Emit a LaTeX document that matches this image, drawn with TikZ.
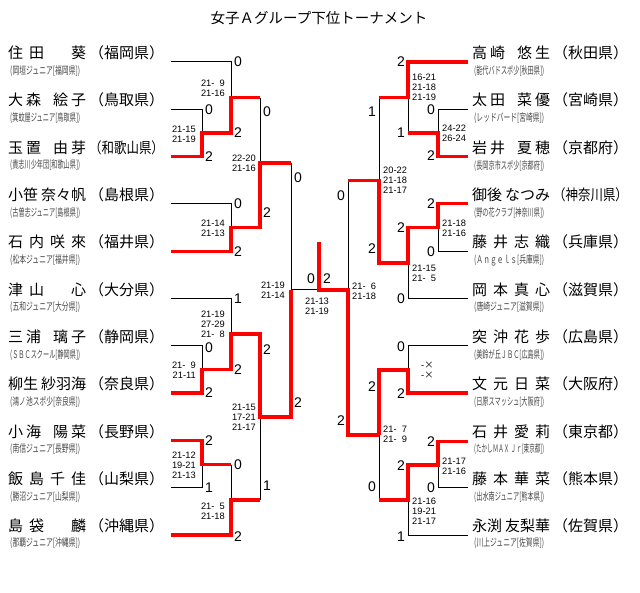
\documentclass[tikz,border=0pt]{standalone}
\usepackage{fontspec}
\usepackage{graphicx}
\setmainfont{Liberation Sans}
\newfontfamily\jp{Noto Sans CJK JP}
\definecolor{tred}{RGB}{255,0,0}
\definecolor{clubgray}{RGB}{70,70,70}
\newcommand\nmT[3]{#1\hspace{6pt}#2\hspace{27pt}#3}
\newcommand\nmP[4]{#1\hspace{3pt}#2\hspace{12pt}#3\hspace{3pt}#4}
\newcommand\nmE[4]{#1\hspace{6pt}#2\hspace{6pt}#3\hspace{6pt}#4}
\newcommand\nmF[5]{#1#2\hspace{3pt}#3#4#5}
\newcommand\prefA[1]{（#1）}
\newcommand\prefB[1]{\scalebox{0.83}[1]{（#1）}}
\newcommand\clubbox[1]{\resizebox{70pt}{\height}{#1}}
\newcommand\dgsp{\phantom{0}}
\newcommand\crs{{\jp ×}}
\begin{document}
\begin{tikzpicture}[x=1pt,y=-1pt,
  ttl/.style={inner sep=0pt, font=\jp\fontsize{14.5}{15}\selectfont},
  nm/.style={anchor=west, inner sep=0pt, font=\jp\fontsize{15}{15}\selectfont},
  cb/.style={anchor=west, inner sep=0pt, font=\jp\fontsize{10.5}{10.5}\selectfont, text=clubgray},
  scL/.style={anchor=west, inner sep=0pt, font=\fontsize{14}{14}\selectfont},
  scR/.style={anchor=east, inner sep=0pt, font=\fontsize{14}{14}\selectfont},
  gsL/.style={anchor=east, inner sep=0pt, align=right, font=\fontsize{9.3}{10}\selectfont},
  gsR/.style={anchor=west, inner sep=0pt, align=left, font=\fontsize{9.3}{10}\selectfont},
  gsC/.style={inner sep=0pt, align=center, font=\fontsize{9.3}{10}\selectfont},
  bl/.style={draw=black, line width=1pt},
  rd/.style={draw=tred, line width=3.2pt},
]
\fill[white] (0,0) rectangle (640,593);
\useasboundingbox (0,0) rectangle (640,593);

\node[ttl] (title) at (319,18) {女子Ａグループ下位トーナメント};

% ---------- left players ----------
\node[nm] (ln0) at (8,53) {\nmT{住}{田}{葵}};
\node[nm] (lp0) at (89,53) {\prefA{福岡県}};
\node[cb] (lc0) at (10,71) {\clubbox{(岡垣ジュニア[福岡県])}};
\node[nm] (ln1) at (8,100.3) {\nmP{大}{森}{絵}{子}};
\node[nm] (lp1) at (89,100.3) {\prefA{鳥取県}};
\node[cb] (lc1) at (10,118.3) {\clubbox{(箕蚊屋ジュニア[鳥取県])}};
\node[nm] (ln2) at (8,147.6) {\nmP{玉}{置}{由}{芽}};
\node[nm] (lp2) at (89,147.6) {\prefB{和歌山県}};
\node[cb] (lc2) at (10,165.6) {\clubbox{(貴志川少年団[和歌山県])}};
\node[nm] (ln3) at (8,194.9) {\nmF{小}{笹}{奈}{々}{帆}};
\node[nm] (lp3) at (89,194.9) {\prefA{島根県}};
\node[cb] (lc3) at (10,212.9) {\clubbox{(古曽志ジュニア[島根県])}};
\node[nm] (ln4) at (8,242.2) {\nmE{石}{内}{咲}{來}};
\node[nm] (lp4) at (89,242.2) {\prefA{福井県}};
\node[cb] (lc4) at (10,260.2) {\clubbox{(松本ジュニア[福井県])}};
\node[nm] (ln5) at (8,289.5) {\nmT{津}{山}{心}};
\node[nm] (lp5) at (89,289.5) {\prefA{大分県}};
\node[cb] (lc5) at (10,307.5) {\clubbox{(五和ジュニア[大分県])}};
\node[nm] (ln6) at (8,336.8) {\nmP{三}{浦}{璃}{子}};
\node[nm] (lp6) at (89,336.8) {\prefA{静岡県}};
\node[cb] (lc6) at (10,354.8) {\clubbox{(ＳＢＣスクール[静岡県])}};
\node[nm] (ln7) at (8,384.1) {\nmF{柳}{生}{紗}{羽}{海}};
\node[nm] (lp7) at (89,384.1) {\prefA{奈良県}};
\node[cb] (lc7) at (10,402.1) {\clubbox{(鴻ノ池スポ少[奈良県])}};
\node[nm] (ln8) at (8,431.4) {\nmP{小}{海}{陽}{菜}};
\node[nm] (lp8) at (89,431.4) {\prefA{長野県}};
\node[cb] (lc8) at (10,449.4) {\clubbox{(南信ジュニア[長野県])}};
\node[nm] (ln9) at (8,478.7) {\nmE{飯}{島}{千}{佳}};
\node[nm] (lp9) at (89,478.7) {\prefA{山梨県}};
\node[cb] (lc9) at (10,496.7) {\clubbox{(勝沼ジュニア[山梨県])}};
\node[nm] (ln10) at (8,526) {\nmT{島}{袋}{麟}};
\node[nm] (lp10) at (89,526) {\prefA{沖縄県}};
\node[cb] (lc10) at (10,543) {\clubbox{(那覇ジュニア[沖縄県])}};

% ---------- right players ----------
\node[nm] (rn0) at (472,53) {\nmP{高}{崎}{悠}{生}};
\node[nm] (rp0) at (553,53) {\prefA{秋田県}};
\node[cb] (rc0) at (474,71) {\clubbox{(能代バドスポ少[秋田県])}};
\node[nm] (rn1) at (472,100.3) {\nmP{太}{田}{菜}{優}};
\node[nm] (rp1) at (553,100.3) {\prefA{宮崎県}};
\node[cb] (rc1) at (474,118.3) {\clubbox{(レッドバード[宮崎県])}};
\node[nm] (rn2) at (472,147.6) {\nmP{岩}{井}{夏}{穂}};
\node[nm] (rp2) at (553,147.6) {\prefA{京都府}};
\node[cb] (rc2) at (474,165.6) {\clubbox{(長岡京市スポ少[京都府])}};
\node[nm] (rn3) at (472,194.9) {\nmF{御}{後}{な}{つ}{み}};
\node[nm] (rp3) at (553,194.9) {\prefB{神奈川県}};
\node[cb] (rc3) at (474,212.9) {\clubbox{(野の花クラブ[神奈川県])}};
\node[nm] (rn4) at (472,242.2) {\nmE{藤}{井}{志}{織}};
\node[nm] (rp4) at (553,242.2) {\prefA{兵庫県}};
\node[cb] (rc4) at (474,260.2) {\clubbox{(Ａｎｇｅｌｓ[兵庫県])}};
\node[nm] (rn5) at (472,289.5) {\nmE{岡}{本}{真}{心}};
\node[nm] (rp5) at (553,289.5) {\prefA{滋賀県}};
\node[cb] (rc5) at (474,307.5) {\clubbox{(唐崎ジュニア[滋賀県])}};
\node[nm] (rn6) at (472,336.8) {\nmE{突}{沖}{花}{歩}};
\node[nm] (rp6) at (553,336.8) {\prefA{広島県}};
\node[cb] (rc6) at (474,354.8) {\clubbox{(美鈴が丘ＪＢＣ[広島県])}};
\node[nm] (rn7) at (472,384.1) {\nmE{文}{元}{日}{菜}};
\node[nm] (rp7) at (553,384.1) {\prefA{大阪府}};
\node[cb] (rc7) at (474,402.1) {\clubbox{(日原スマッシュ[大阪府])}};
\node[nm] (rn8) at (472,431.4) {\nmE{石}{井}{愛}{莉}};
\node[nm] (rp8) at (553,431.4) {\prefA{東京都}};
\node[cb] (rc8) at (474,449.4) {\clubbox{(たかしＭＡＸ Ｊｒ[東京都])}};
\node[nm] (rn9) at (472,478.7) {\nmE{藤}{本}{華}{菜}};
\node[nm] (rp9) at (553,478.7) {\prefA{熊本県}};
\node[cb] (rc9) at (474,496.7) {\clubbox{(出水南ジュニア[熊本県])}};
\node[nm] (rn10) at (472,526) {\nmF{永}{渕}{友}{梨}{華}};
\node[nm] (rp10) at (553,526) {\prefA{佐賀県}};
\node[cb] (rc10) at (474,543) {\clubbox{(川上ジュニア[佐賀県])}};

% ---------- coordinates ----------
\coordinate (L0) at (171,62);    \coordinate (R0) at (468,62);
\coordinate (L1) at (171,109.3); \coordinate (R1) at (468,109.3);
\coordinate (L2) at (171,156.6); \coordinate (R2) at (468,156.6);
\coordinate (L3) at (171,203.9); \coordinate (R3) at (468,203.9);
\coordinate (L4) at (171,251.2); \coordinate (R4) at (468,251.2);
\coordinate (L5) at (171,298.5); \coordinate (R5) at (468,298.5);
\coordinate (L6) at (171,345.8); \coordinate (R6) at (468,345.8);
\coordinate (L7) at (171,393.1); \coordinate (R7) at (468,393.1);
\coordinate (L8) at (171,440.4); \coordinate (R8) at (468,441.5);
\coordinate (L9) at (171,487.7); \coordinate (R9) at (468,487.7);
\coordinate (L10) at (171,535);  \coordinate (R10) at (468,535.5);

\coordinate (a1) at (202,133);
\coordinate (a2) at (231,97.7);
\coordinate (a3) at (231,227.5);
\coordinate (a4) at (260,163);
\coordinate (b1) at (202,369.5);
\coordinate (b2) at (231,334);
\coordinate (b3) at (202,464.5);
\coordinate (b4) at (231,500);
\coordinate (b5) at (260,417);
\coordinate (FL) at (291,290);
\coordinate (FC) at (319,290);
\coordinate (FR) at (348,290);
\coordinate (champ) at (319,242);
\coordinate (c1) at (438,133);
\coordinate (c2) at (408,97.5);
\coordinate (c3) at (438,227.5);
\coordinate (c4) at (408,263);
\coordinate (c5) at (379,180.5);
\coordinate (d1) at (408,370);
\coordinate (d2) at (438,465);
\coordinate (d3) at (408,500);
\coordinate (d4) at (379,435);

% ---------- black lines ----------
\draw[bl] (L1) -| (a1);
\draw[bl] (L0) -| (a2);
\draw[bl] (a2 -| a4) -- (a4);
\draw[bl] (L3) -| (a3);
\draw[bl] (a4 -| FL) -- (FL) -- (FC);
\draw[bl] (L5) -| (b2);
\draw[bl] (L6) -| (b1);
\draw[bl] (L9) -| (b3);
\draw[bl] (b3 -| b4) -- (b4);
\draw[bl] (b4 -| b5) -- (b5);
\draw[bl] (FR) -- (c5 -| FR);
\draw[bl] (c5) -- (c5 |- c2);
\draw[bl] (c2) -- (c2 |- c1);
\draw[bl] (c1) |- (R1);
\draw[bl] (c3) |- (R4);
\draw[bl] (c4) |- (R5);
\draw[bl] (d1) |- (R6);
\draw[bl] (d4) -- (d4 |- d3);
\draw[bl] (d2) |- (R9);
\draw[bl] (d3) |- (R10);

% ---------- red lines ----------
\draw[rd] (L2) -| (a1) -- (a1 -| a2) -- (a2) -- (a2 -| a4);
\draw[rd] (L4) -| (a3) -- (a3 -| a4) -- (a4) -- (a4 -| FL);
\draw[rd] (L7) -| (b1) -- (b1 -| b2) -- (b2) -- (b2 -| b5) -- (b5) -- (b5 -| FL) -- (FL);
\draw[rd] (L8) -| (b3) -- (b3 -| b4);
\draw[rd] (L10) -| (b4) -- (b4 -| b5);
\draw[rd] (champ) -- (FC) -- (FR) -- (d4 -| FR) -- (d4);
\draw[rd] (c5 -| FR) -- (c5) |- (c4) |- (c3) |- (R3);
\draw[rd] (c5 |- c2) -- (c2) |- (R0);
\draw[rd] (c2 |- c1) -- (c1) |- (R2);
\draw[rd] (d4) |- (d1) |- (R7);
\draw[rd] (d4 |- d3) -- (d3) |- (d2) |- (R8);

% ---------- set scores, left ----------
\node[scL] (s1) at (205,110) {0};
\node[scL] (s2) at (205,157) {2};
\node[scL] (s3) at (234,62) {0};
\node[scL] (s4) at (234,133) {2};
\node[scL] (s5) at (263,112) {0};
\node[scL] (s6) at (263,213) {2};
\node[scL] (s7) at (234,204) {0};
\node[scL] (s8) at (234,252) {2};
\node[scL] (s9) at (294,178) {0};
\node[scL] (s10) at (294,403) {2};
\node[scL] (s11) at (234,299) {1};
\node[scL] (s12) at (234,370) {2};
\node[scL] (s13) at (205,348) {0};
\node[scL] (s14) at (205,393) {2};
\node[scL] (s15) at (263,350) {2};
\node[scL] (s16) at (263,486) {1};
\node[scL] (s17) at (205,441) {2};
\node[scL] (s18) at (205,488) {1};
\node[scL] (s19) at (234,465) {0};
\node[scL] (s20) at (234,537) {2};
% final
\node[scR] (f1) at (315,279) {0};
\node[scL] (f2) at (323,279) {2};
% ---------- set scores, right ----------
\node[scR] (t1) at (435,110) {0};
\node[scR] (t2) at (435,156) {2};
\node[scR] (t3) at (405,62) {2};
\node[scR] (t4) at (405,133) {1};
\node[scR] (t5) at (376,112) {1};
\node[scR] (t6) at (376,249) {2};
\node[scR] (t7) at (435,204) {2};
\node[scR] (t8) at (435,252) {0};
\node[scR] (t9) at (405,228) {2};
\node[scR] (t10) at (405,299) {0};
\node[scR] (t11) at (345,196) {0};
\node[scR] (t12) at (345,421) {2};
\node[scR] (t13) at (405,347) {0};
\node[scR] (t14) at (405,394) {2};
\node[scR] (t15) at (376,387) {2};
\node[scR] (t16) at (376,487) {0};
\node[scR] (t17) at (435,442) {2};
\node[scR] (t18) at (435,488) {0};
\node[scR] (t19) at (405,466) {2};
\node[scR] (t20) at (405,537) {1};

% ---------- game scores ----------
\node[gsL] (g1) at (196,134) {21-15\\21-19};
\node[gsL] (g2) at (225,88) {21-\dgsp9\\21-16};
\node[gsL] (g3) at (256,163) {22-20\\21-16};
\node[gsL] (g4) at (225,228) {21-14\\21-13};
\node[gsL] (g5) at (285,290) {21-19\\21-14};
\node[gsL] (g6) at (196,370) {21-\dgsp9\\21-11};
\node[gsL] (g7) at (225,324) {21-19\\27-29\\21-\dgsp8};
\node[gsL] (g8) at (256,417) {21-15\\17-21\\21-17};
\node[gsL] (g9) at (196,465) {21-12\\19-21\\21-13};
\node[gsL] (g10) at (225,511) {21-\dgsp5\\21-18};
\node[gsC] (g11) at (317,306) {21-13\\21-19};
\node[gsR] (h1) at (442,133) {24-22\\26-24};
\node[gsR] (h2) at (412,87) {16-21\\21-18\\21-19};
\node[gsR] (h3) at (383,180) {20-22\\21-18\\21-17};
\node[gsR] (h4) at (442,228) {21-18\\21-16};
\node[gsR] (h5) at (412,273) {21-15\\21-\dgsp5};
\node[gsR] (h6) at (352,291) {21-\dgsp6\\21-18};
\node[gsR] (h7) at (421,370) {-\crs\\-\crs};
\node[gsR] (h8) at (383,434) {21-\dgsp7\\21-\dgsp9};
\node[gsR] (h9) at (442,466) {21-17\\21-16};
\node[gsR] (h10) at (412,511) {21-16\\19-21\\21-17};
\end{tikzpicture}
\end{document}
